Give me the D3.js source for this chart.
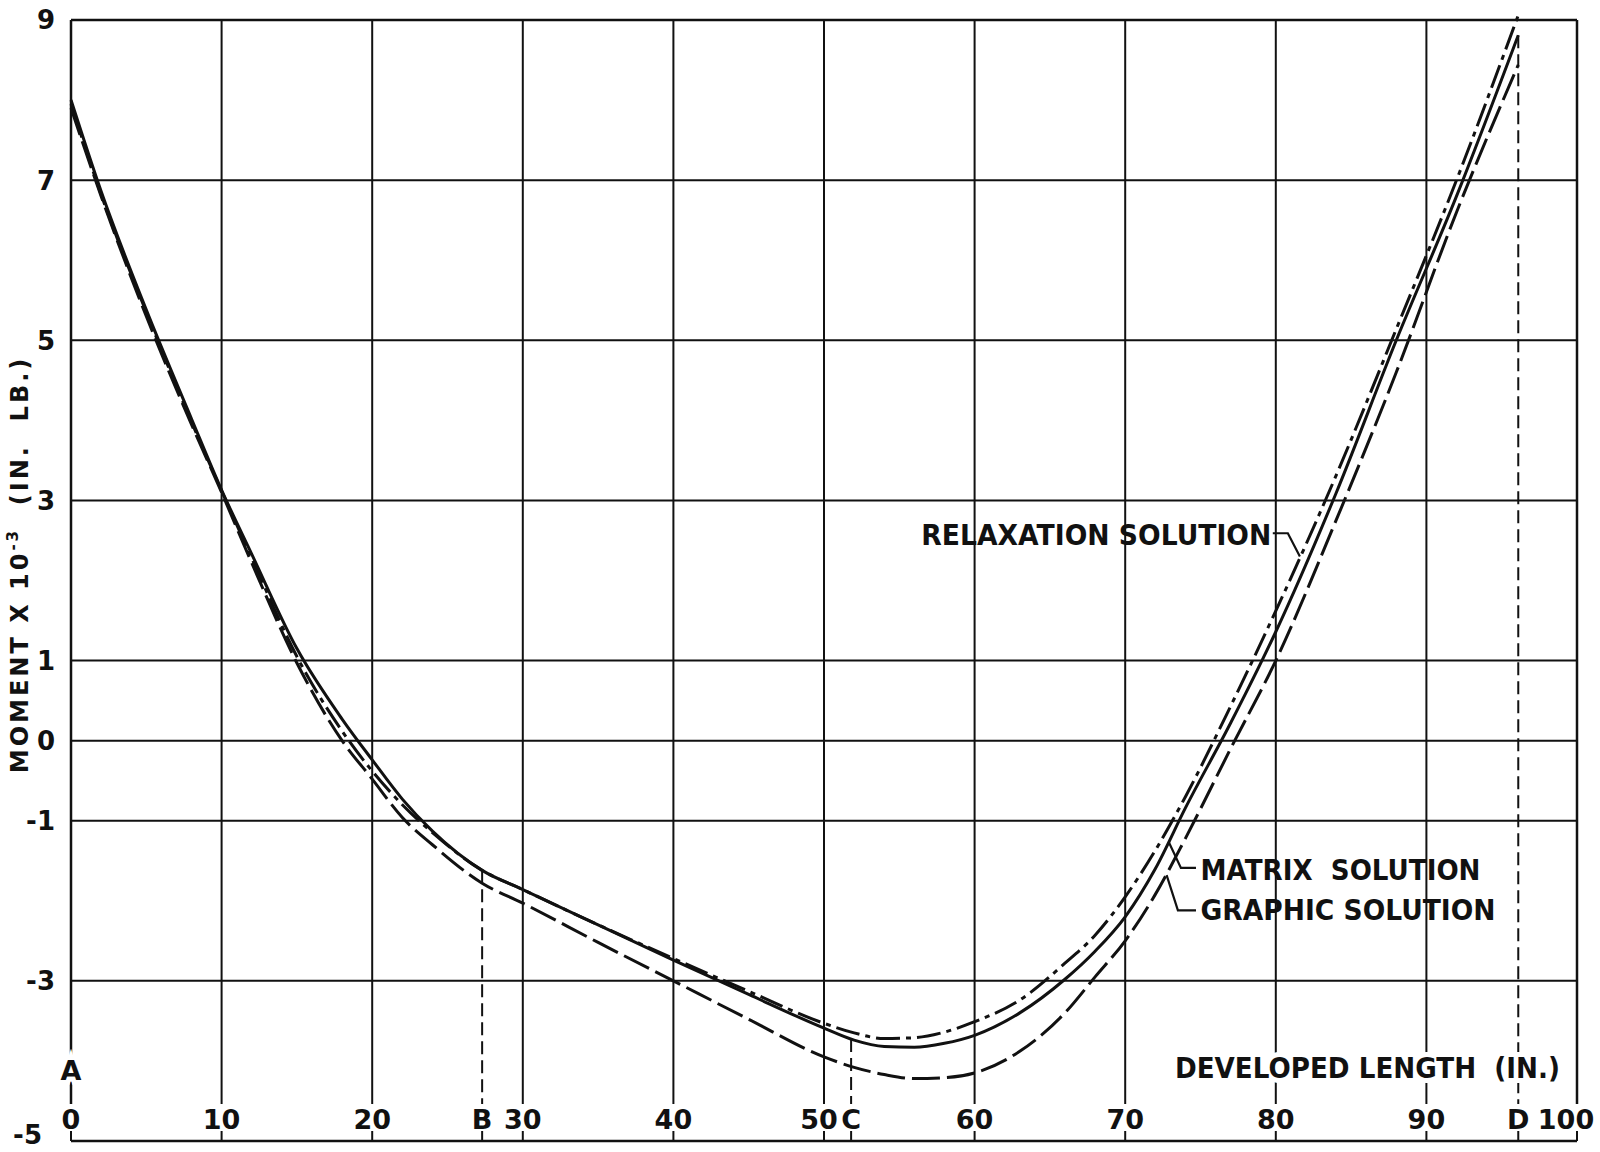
<!DOCTYPE html>
<html>
<head>
<meta charset="utf-8">
<script src="https://cdn.jsdelivr.net/npm/d3@7"></script>
<style>
  html, body { margin: 0; padding: 0; background: #fff; }
  svg { display: block; }
  text { font-family: "DejaVu Sans", sans-serif; font-weight: bold; fill: #111; }
</style>
</head>
<body>
<svg id="chart"></svg>
<script>
// developed length (in.) and moment x 10^-3 (in. lb.)
var lengths    = [0, 2, 5, 8, 10, 12, 15, 18, 20, 22, 24, 27.3, 30, 35, 40, 45, 50, 52, 54, 56, 58, 60, 63, 66, 68, 70, 72, 74, 77, 80, 84, 88, 92, 96.1];
var matrix     = [8.0, 6.86, 5.38, 4.02, 3.13, 2.33, 1.15, 0.27, -0.24, -0.73, -1.13, -1.62, -1.86, -2.3, -2.74, -3.17, -3.59, -3.74, -3.82, -3.83, -3.78, -3.68, -3.4, -2.98, -2.63, -2.2, -1.6, -0.84, 0.22, 1.36, 3.09, 5.0, 6.8, 8.81];
var relaxation = [7.95, 6.82, 5.35, 3.98, 3.12, 2.28, 1.05, 0.12, -0.38, -0.8, -1.15, -1.62, -1.86, -2.3, -2.72, -3.13, -3.53, -3.65, -3.72, -3.71, -3.64, -3.51, -3.24, -2.78, -2.43, -1.95, -1.37, -0.7, 0.43, 1.62, 3.31, 5.14, 7.0, 9.06];
var graphic    = [7.9, 6.8, 5.3, 3.95, 3.1, 2.22, 0.97, 0.0, -0.48, -0.96, -1.3, -1.78, -2.03, -2.52, -3.0, -3.48, -3.95, -4.08, -4.17, -4.22, -4.21, -4.15, -3.88, -3.4, -2.95, -2.5, -1.92, -1.22, -0.1, 1.0, 2.75, 4.6, 6.6, 8.44];

var xTicks = [0, 10, 20, 30, 40, 50, 60, 70, 80, 90, 100];
var yTicks = [9, 7, 5, 3, 1, 0, -1, -3, -5];
var yGrid = [7, 5, 3, 1, 0, -1, -3];
var pointNames = ["B", "C", "D"];
var pointLengths = [27.3, 51.8, 96.1];

var margin = { top: 20, right: 23, bottom: 11, left: 71 },
    width = 1600 - margin.left - margin.right,
    height = 1152 - margin.top - margin.bottom;

var svg = d3.select("#chart")
    .attr("width", width + margin.left + margin.right)
    .attr("height", height + margin.top + margin.bottom)
    .append("g")
    .attr("transform", "translate(" + margin.left + "," + margin.top + ")");

var x = d3.scaleLinear().domain([0, 100]).range([0, width]);
var y = d3.scaleLinear().domain([-5, 9]).range([height, 0]);

var gridBottom = height - 37;

// horizontal grid + frame
svg.selectAll(".hgrid")
    .data(yGrid.concat([9, -5]))
    .enter().append("line")
    .attr("class", "hgrid")
    .attr("x1", 0).attr("x2", width)
    .attr("y1", function (d) { return y(d); })
    .attr("y2", function (d) { return y(d); })
    .attr("stroke", "#111")
    .attr("stroke-width", function (d) { return (d == 9 || d == -5) ? 2.5 : 2; });

// vertical grid, stops above tick labels
svg.selectAll(".vgrid")
    .data(xTicks)
    .enter().append("line")
    .attr("class", "vgrid")
    .attr("x1", function (d) { return x(d); })
    .attr("x2", function (d) { return x(d); })
    .attr("y1", y(9))
    .attr("y2", gridBottom)
    .attr("stroke", "#111")
    .attr("stroke-width", function (d) { return (d == 0 || d == 100) ? 2.5 : 2; });

// small ticks on bottom axis
svg.selectAll(".tick")
    .data(xTicks.concat(pointLengths))
    .enter().append("line")
    .attr("x1", function (d) { return x(d); })
    .attr("x2", function (d) { return x(d); })
    .attr("y1", height - 10)
    .attr("y2", height)
    .attr("stroke", "#111")
    .attr("stroke-width", 2);

// dashed verticals from the matrix curve at B, C, D
function matrixAt(v) {
    var i = d3.bisectLeft(lengths, v);
    if (lengths[i] == v) return matrix[i];
    var t = (v - lengths[i - 1]) / (lengths[i] - lengths[i - 1]);
    return matrix[i - 1] + t * (matrix[i] - matrix[i - 1]);
}

svg.selectAll(".mark")
    .data(pointLengths)
    .enter().append("line")
    .attr("x1", function (d) { return x(d); })
    .attr("x2", function (d) { return x(d); })
    .attr("y1", function (d) { return y(matrixAt(d)); })
    .attr("y2", gridBottom)
    .attr("stroke", "#111")
    .attr("stroke-width", 2)
    .attr("stroke-dasharray", "13,6");

// the three solutions
var series = [
    { name: "relaxation", values: relaxation, dash: "24,6,5,6" },
    { name: "matrix", values: matrix, dash: null },
    { name: "graphic", values: graphic, dash: "28,7" }
];

var line = d3.line()
    .x(function (d) { return x(d[0]); })
    .y(function (d) { return y(d[1]); })
    .curve(d3.curveMonotoneX);

series.forEach(function (s) {
    svg.append("path")
        .datum(lengths.map(function (l, i) { return [l, s.values[i]]; }))
        .attr("fill", "none")
        .attr("stroke", "#111")
        .attr("stroke-width", 3)
        .attr("stroke-linejoin", "round")
        .attr("stroke-dasharray", s.dash)
        .attr("d", line);
});

// leaders from labels to curves
var leaders = [
    [[79.8, 2.59], [80.8, 2.59], [81.6, 2.3]],
    [[74.7, -1.59], [73.7, -1.59], [72.9, -1.27]],
    [[74.7, -2.12], [73.5, -2.12], [72.75, -1.68]]
];
var leaderLine = d3.line()
    .x(function (d) { return x(d[0]); })
    .y(function (d) { return y(d[1]); });

leaders.forEach(function (l) {
    svg.append("path")
        .attr("d", leaderLine(l))
        .attr("fill", "none")
        .attr("stroke", "#111")
        .attr("stroke-width", 2.2);
});

// curve labels
svg.append("text")
    .attr("x", x(79.7)).attr("y", y(2.44))
    .attr("text-anchor", "end")
    .attr("font-size", 29)
    .attr("textLength", 350).attr("lengthAdjust", "spacingAndGlyphs")
    .text("RELAXATION SOLUTION");

svg.append("text")
    .attr("x", x(75.0)).attr("y", y(-1.74))
    .attr("font-size", 28)
    .attr("textLength", 280).attr("lengthAdjust", "spacingAndGlyphs")
    .attr("xml:space", "preserve")
    .text("MATRIX  SOLUTION");

svg.append("text")
    .attr("x", x(75.0)).attr("y", y(-2.24))
    .attr("font-size", 28)
    .attr("textLength", 295).attr("lengthAdjust", "spacingAndGlyphs")
    .text("GRAPHIC SOLUTION");

// axis title inside plot, masks the grid behind it
svg.append("text")
    .attr("x", x(73.3)).attr("y", y(-4.21))
    .attr("font-size", 28)
    .attr("textLength", 385).attr("lengthAdjust", "spacingAndGlyphs")
    .attr("xml:space", "preserve")
    .attr("stroke", "#fff").attr("stroke-width", 10).attr("paint-order", "stroke")
    .text("DEVELOPED LENGTH  (IN.)");

svg.append("text")
    .attr("x", x(0)).attr("y", y(-4.24))
    .attr("text-anchor", "middle")
    .attr("font-size", 27)
    .attr("stroke", "#fff").attr("stroke-width", 10).attr("paint-order", "stroke")
    .text("A");

// x tick labels
svg.selectAll(".xlab")
    .data(xTicks)
    .enter().append("text")
    .attr("x", function (d) { return x(d); })
    .attr("y", height - 12)
    .attr("dx", function (d) { return d == 100 ? -11 : (d == 50 ? -5 : 0); })
    .attr("text-anchor", "middle")
    .attr("font-size", 27)
    .text(function (d) { return d; });

svg.selectAll(".plab")
    .data(pointNames)
    .enter().append("text")
    .attr("x", function (d, i) { return x(pointLengths[i]); })
    .attr("y", height - 12)
    .attr("text-anchor", "middle")
    .attr("font-size", 27)
    .attr("stroke", "#fff").attr("stroke-width", 4).attr("paint-order", "stroke")
    .text(function (d) { return d; });

// y tick labels
svg.selectAll(".ylab")
    .data(yTicks)
    .enter().append("text")
    .attr("x", function (d) { return d == -5 ? -29 : -16; })
    .attr("y", function (d) { return y(d); })
    .attr("dy", function (d) { return d == -5 ? "0.12em" : "0.36em"; })
    .attr("text-anchor", "end")
    .attr("font-size", 26)
    .text(function (d) { return d; });

// y axis title
var yTitle = svg.append("text")
    .attr("transform", "translate(" + (-43) + "," + y(2.2) + ") rotate(-90)")
    .attr("text-anchor", "middle")
    .attr("font-size", 24)
    .attr("letter-spacing", 3)
    .attr("xml:space", "preserve");
yTitle.append("tspan").text("MOMENT X 10");
yTitle.append("tspan").attr("font-size", 15).attr("dy", -10).text("-3");
yTitle.append("tspan").attr("dy", 10).text("  (IN.  LB.)");
</script>
</body>
</html>
